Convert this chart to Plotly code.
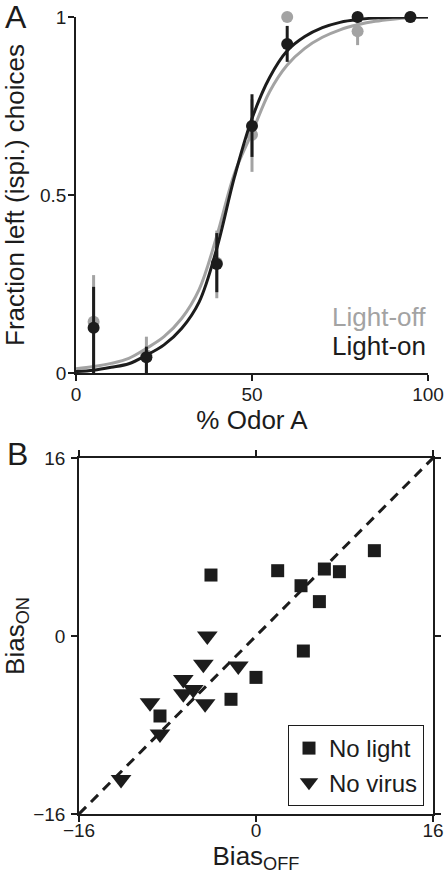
import plotly.graph_objects as go

# ---------------- Panel A data ----------------
odor_pts = [5, 20, 40, 50, 60, 80, 95]
off_frac = [0.144, 0.05, 0.31, 0.669, 1.0, 0.96, 1.0]
off_err_plus = [0.131, 0.052, 0.09, 0.10, 0.0, 0.039, 0.0]
off_err_minus = [0.144, 0.05, 0.10, 0.104, 0.0, 0.039, 0.0]
on_frac = [0.127, 0.044, 0.306, 0.694, 0.924, 1.0, 1.0]
on_err_plus = [0.115, 0.030, 0.087, 0.089, 0.051, 0.0, 0.0]
on_err_minus = [0.127, 0.044, 0.079, 0.087, 0.050, 0.0, 0.0]

curve_x = [0, 5, 10, 15, 20, 25, 30, 35, 40, 45, 50, 55, 60, 65, 70, 75, 80, 85, 90, 95, 100]
off_curve = [0.012, 0.018, 0.027, 0.041, 0.069, 0.102, 0.153, 0.235, 0.385, 0.56, 0.675, 0.79, 0.865,
             0.912, 0.943, 0.964, 0.978, 0.988, 0.994, 0.998, 1.0]
on_curve = [0.004, 0.008, 0.016, 0.026, 0.05, 0.079, 0.125, 0.20, 0.35, 0.55, 0.715, 0.83, 0.905,
            0.945, 0.97, 0.985, 0.993, 0.997, 0.999, 1.0, 1.0]

# ---------------- Panel B data ----------------
nolight_off = [-4.07, 1.96, 6.18, 7.54, 10.7, 4.07, 5.73, 4.28, 0.0, -2.26, -8.68]
nolight_on = [5.48, 5.87, 6.02, 5.78, 7.67, 4.52, 3.09, -1.35, -3.72, -5.69, -7.19]
novirus_off = [-4.4, -4.76, -1.6, -6.57, -5.67, -6.57, -4.6, -9.58, -8.68, -12.2]
novirus_on = [0.0, -2.55, -2.7, -3.9, -4.8, -5.2, -6.1, -6.0, -8.8, -12.9]
unity = [-16, 16]

GRAY = "#a3a3a3"
BLACK = "#1c1c1c"
FONT = "Liberation Sans, Arial, sans-serif"
W, H = 448, 879

fig = go.Figure()

# Panel A
fig.add_trace(go.Scatter(x=curve_x, y=off_curve, mode="lines", line=dict(color=GRAY, width=3, shape="spline"),
                         xaxis="x", yaxis="y", showlegend=False, cliponaxis=False))
fig.add_trace(go.Scatter(x=odor_pts, y=off_frac, mode="markers",
                         marker=dict(color=GRAY, size=12),
                         error_y=dict(type="data", symmetric=False, array=off_err_plus, arrayminus=off_err_minus,
                                      color=GRAY, thickness=3, width=0),
                         xaxis="x", yaxis="y", showlegend=False, cliponaxis=False))
fig.add_trace(go.Scatter(x=curve_x, y=on_curve, mode="lines", line=dict(color=BLACK, width=3, shape="spline"),
                         xaxis="x", yaxis="y", showlegend=False, cliponaxis=False))
fig.add_trace(go.Scatter(x=odor_pts, y=on_frac, mode="markers",
                         marker=dict(color=BLACK, size=12),
                         error_y=dict(type="data", symmetric=False, array=on_err_plus, arrayminus=on_err_minus,
                                      color=BLACK, thickness=3, width=0),
                         xaxis="x", yaxis="y", showlegend=False, cliponaxis=False))

# Panel B
fig.add_trace(go.Scatter(x=unity, y=unity, mode="lines", line=dict(color=BLACK, width=3, dash="10px,7px"),
                         xaxis="x2", yaxis="y2", showlegend=False, cliponaxis=False))
fig.add_trace(go.Scatter(x=nolight_off, y=nolight_on, mode="markers", name="No light",
                         marker=dict(symbol="square", color=BLACK, size=13),
                         xaxis="x2", yaxis="y2"))
fig.add_trace(go.Scatter(x=novirus_off, y=novirus_on, mode="markers", name="No virus",
                         marker=dict(symbol="triangle-down", color=BLACK, size=18),
                         xaxis="x2", yaxis="y2"))

tickfont = dict(family=FONT, size=19, color=BLACK)
titlefont = dict(family=FONT, size=26, color=BLACK)

def px_x(a, b):
    return [a / W, b / W]

def px_y(top, bottom):
    return [1 - bottom / H, 1 - top / H]

common = dict(ticks="outside", ticklen=6, tickwidth=1.5, tickcolor=BLACK, showline=True, linecolor=BLACK,
              linewidth=1.5, showgrid=False, zeroline=False, tickfont=tickfont, automargin=False)

fig.update_layout(
    width=W, height=H,
    margin=dict(l=0, r=0, t=0, b=0, autoexpand=False),
    paper_bgcolor="white", plot_bgcolor="white",
    font=dict(family=FONT, color=BLACK),
    xaxis=dict(domain=px_x(76, 428), range=[0, 100], tickvals=[0, 50, 100], anchor="y",
               ticklabelstandoff=-3,
               title=dict(text="% Odor A", font=titlefont, standoff=0), **common),
    yaxis=dict(domain=px_y(17, 373), range=[0, 1], tickvals=[0, 0.5, 1], ticktext=["0", "0.5", "1"],
               anchor="x", ticklabelstandoff=-2,
               title=dict(text="Fraction left (ispi.) choices", font=titlefont, standoff=12), **common),
    xaxis2=dict(domain=px_x(79, 433), range=[-16, 16], tickvals=[-16, 0, 16], mirror="ticks", anchor="y2",
                ticklabelstandoff=-8,
                title=dict(text="Bias<sub>OFF</sub>", font=titlefont, standoff=6), **common),
    yaxis2=dict(domain=px_y(458, 814), range=[-16, 16], tickvals=[-16, 0, 16], mirror="ticks", anchor="x2",
                ticklabelstandoff=2,
                title=dict(text="Bias<sub>ON</sub>", font=titlefont, standoff=12), **common),
    showlegend=True,
    legend=dict(x=424 / W, y=1 - 806 / H, xanchor="right", yanchor="bottom",
                bordercolor=BLACK, borderwidth=1, bgcolor="white",
                font=dict(family=FONT, size=24, color=BLACK), tracegroupgap=0),
    annotations=[
        dict(text="Light-off", x=100, y=0.157, xref="x", yref="y", xanchor="right", yanchor="middle",
             showarrow=False, font=dict(family=FONT, size=26, color=GRAY)),
        dict(text="Light-on", x=100, y=0.076, xref="x", yref="y", xanchor="right", yanchor="middle",
             showarrow=False, font=dict(family=FONT, size=26, color=BLACK)),
        dict(text="A", x=16 / W, y=1 - 17 / H, xref="paper", yref="paper", xanchor="center", yanchor="middle",
             showarrow=False, font=dict(family=FONT, size=32, color=BLACK)),
        dict(text="B", x=17 / W, y=1 - 454 / H, xref="paper", yref="paper", xanchor="center", yanchor="middle",
             showarrow=False, font=dict(family=FONT, size=32, color=BLACK)),
    ],
)

fig.write_html(
    "out.html",
    config={"displayModeBar": False},
    post_script="document.body.style.margin='0';document.body.style.overflow='hidden';",
)
